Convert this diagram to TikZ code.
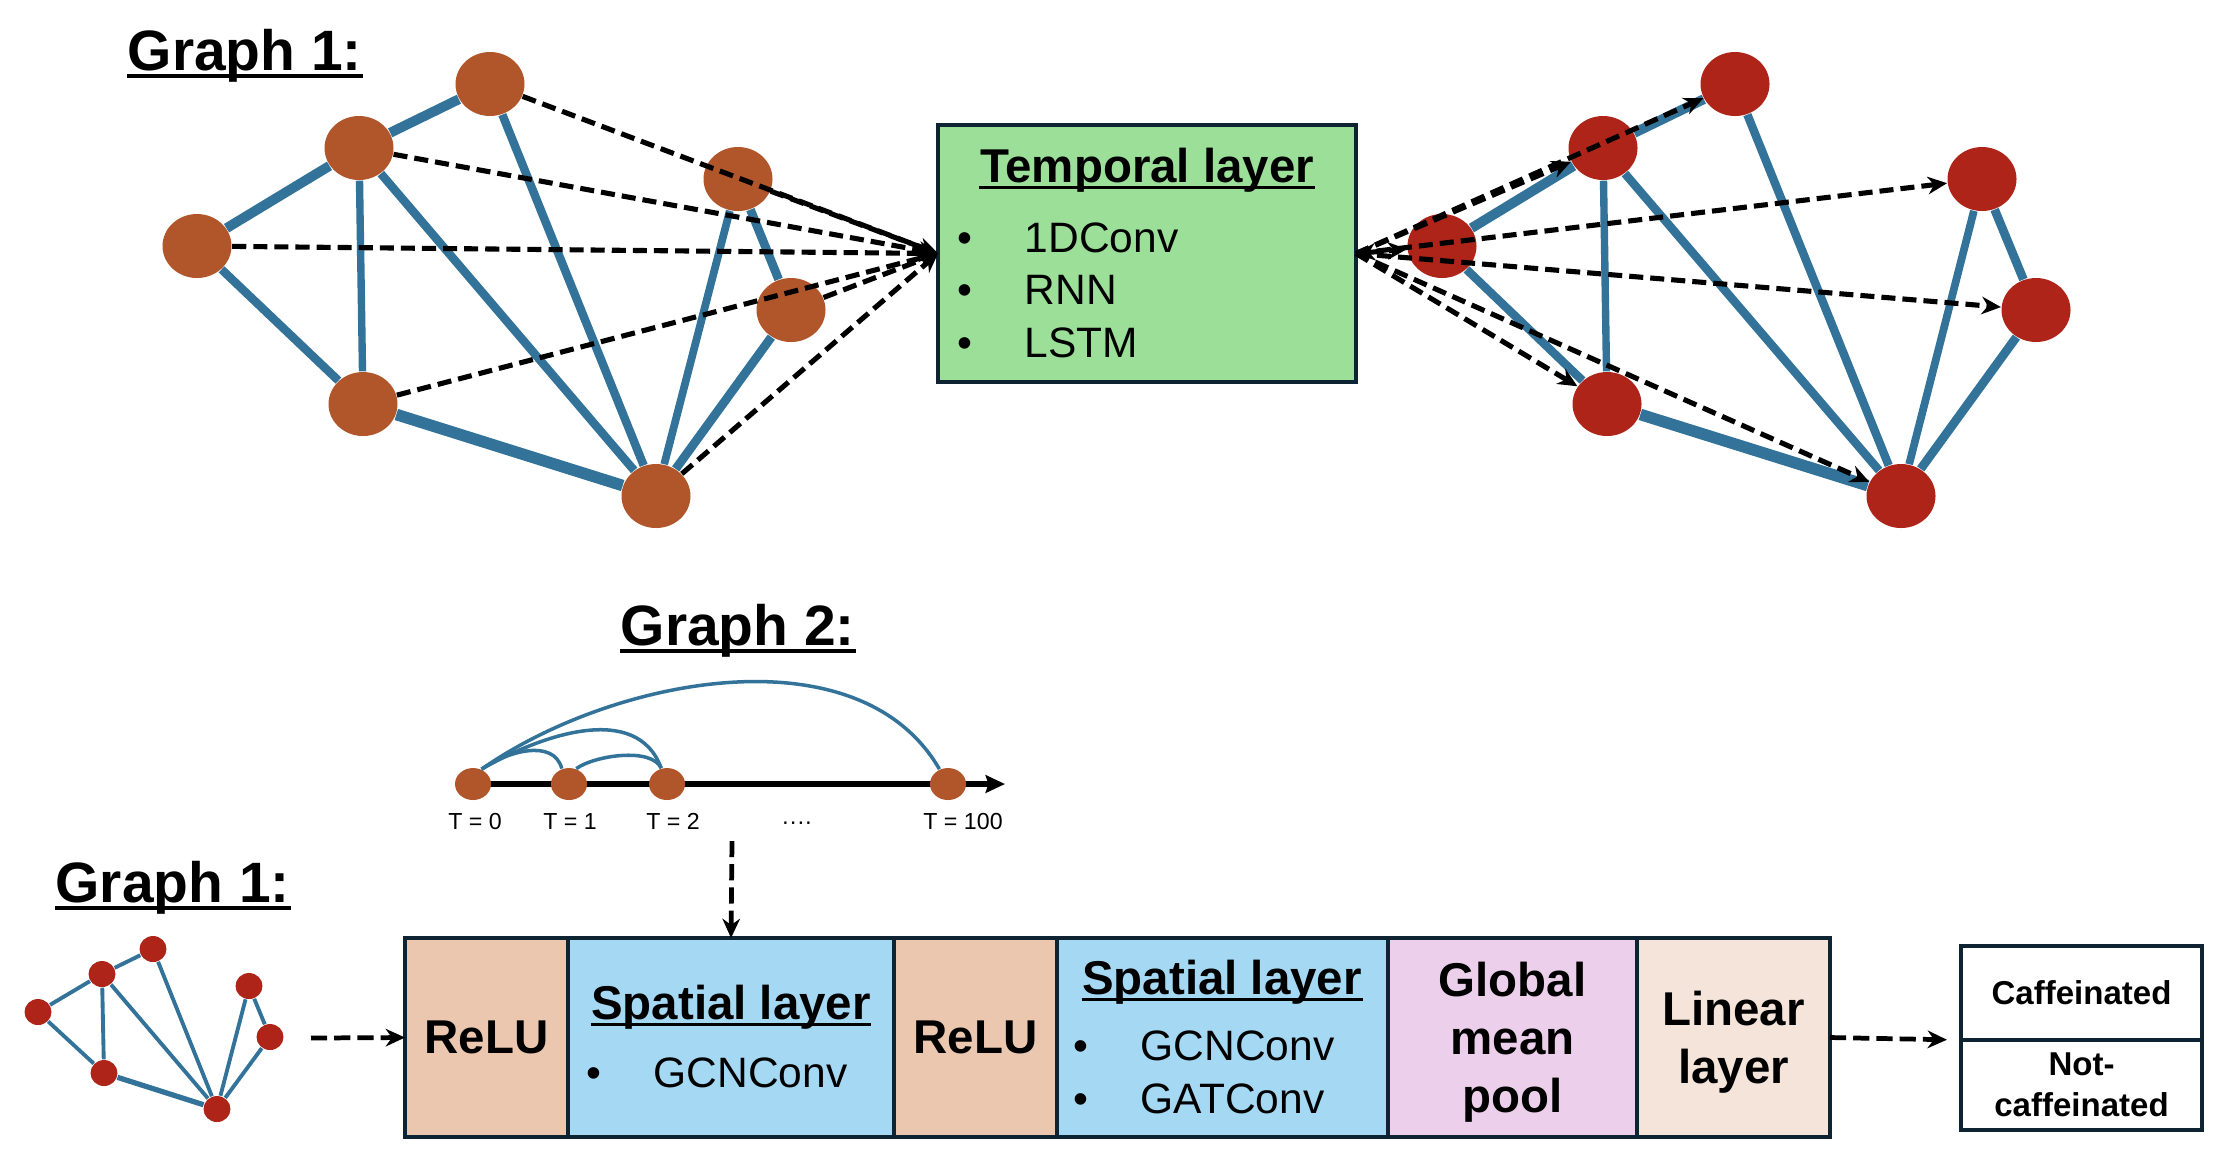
\documentclass[tikz,border=0pt]{standalone}
\usepackage{fontspec}
\setmainfont{Liberation Sans}
\usetikzlibrary{arrows.meta, shapes.geometric}

\definecolor{edgeblue}{HTML}{33739A}
\definecolor{nodeorange}{HTML}{B1562A}
\definecolor{nodered}{HTML}{AE2418}
\definecolor{boxline}{HTML}{0E2433}
\definecolor{tempgreen}{HTML}{9BDF98}
\definecolor{relupeach}{HTML}{EBC7AF}
\definecolor{spatialblue}{HTML}{A5D9F3}
\definecolor{poolpink}{HTML}{ECCFEA}
\definecolor{linearcream}{HTML}{F5E4DA}

\tikzset{
  onode/.style={ellipse, fill=nodeorange, inner sep=0, minimum width=6.9mm, minimum height=6.4mm},
  rnode/.style={onode, fill=nodered},
  link/.style={edgeblue, line width=#1},
  link/.default=2.5pt,
  dasharrow/.style={dash pattern=on 4pt off 2pt, line width=1.45pt, -{Stealth[length=5.5pt,width=5pt]}},
  dasharrowb/.style={dash pattern=on 4.6pt off 2pt, line width=1.35pt, -{Stealth[length=5.5pt,width=5pt]}},
  layerbox/.style={draw=boxline, line width=1.4pt, inner sep=0, outer sep=0, minimum height=19.9mm,
    font=\bfseries\fontsize{13.5}{16.5}\selectfont, align=center},
  heading/.style={font=\bfseries\fontsize{16.2}{19}\selectfont, anchor=base west, inner sep=0},
  boxtitle/.style={font=\bfseries\fontsize{13.5}{16}\selectfont, anchor=base, inner sep=0},
  listitem/.style={font=\fontsize{12.1}{14}\selectfont, anchor=base west, inner sep=0},
  tlabel/.style={font=\fontsize{6.6}{7.5}\selectfont, anchor=base, inner sep=0},
}

\begin{document}
\begin{tikzpicture}[x=0.1mm, y=-0.1mm]
\useasboundingbox (0,0) rectangle (2236,1158);

% Graph 1, top
\node[heading] (g1top) at (127,70) {Graph 1:};

% Nodes of the two graphs round the temporal layer
\node[onode] (a) at (197,246) {};
\node[onode] (b) at (359,148) {};
\node[onode] (c) at (490,84) {};
\node[onode] (d) at (738,179) {};
\node[onode] (e) at (791,310) {};
\node[onode] (f) at (363,404) {};
\node[onode] (g) at (656,496) {};

\node[rnode] (ra) at (1442,246) {};
\node[rnode] (rb) at (1603,148) {};
\node[rnode] (rc) at (1735,84) {};
\node[rnode] (rd) at (1982,179) {};
\node[rnode] (re) at (2036,310) {};
\node[rnode] (rf) at (1607,404) {};
\node[rnode] (rg) at (1901,496) {};

% Edges, same on both sides
\foreach \u/\v/\w in {a/b/2.8pt, b/c/2.8pt, a/f/2.4pt, b/f/2.1pt, b/g/2.4pt, c/g/2.4pt,
                      f/g/3.3pt, d/g/2.2pt, d/e/2.5pt, e/g/2.5pt} {
  \draw[link=\w] (\u) -- (\v);
  \draw[link=\w] (r\u) -- (r\v);
}

% Temporal layer
\node[layerbox, fill=tempgreen, minimum width=41.8mm, minimum height=25.7mm] (temporal) at (1147,253.5) {};
\node[boxtitle] (temptitle) at (1147,182) {Temporal layer};
\node[listitem] (conv) at (957,252) {\makebox[6.7mm][l]{\textbullet}1DConv};
\node[listitem] (rnn) at (957,304) {\makebox[6.7mm][l]{\textbullet}RNN};
\node[listitem] (lstm) at (957,357) {\makebox[6.7mm][l]{\textbullet}LSTM};

% Dashed arrows in and out
\foreach \n in {a,b,c,d,e,f,g}
  \draw[dasharrow] (\n) -- (temporal.west);
\foreach \n in {rb,rc,rd,re,rf,rg}
  \draw[dasharrow] (temporal.east) -- (\n);
\draw[dasharrow, {Stealth[length=5.5pt,width=5pt]}-{Stealth[length=5.5pt,width=5pt]}] (temporal.east) -- (ra);

% Graph 2: time line
\node[heading] (g2) at (620,645) {Graph 2:};
\coordinate (tstart) at (473,784);
\coordinate (tend) at (1005,784);
\draw[line width=1.6pt, -{Stealth[length=5.5pt,width=5pt,inset=0.8pt]}] (tstart) -- (tend);
\node[onode, minimum width=3.6mm, minimum height=3.2mm] (t0) at (473,784) {};
\node[onode, minimum width=3.6mm, minimum height=3.2mm] (t1) at (569,784) {};
\node[onode, minimum width=3.6mm, minimum height=3.2mm] (t2) at (667,784) {};
\node[onode, minimum width=3.6mm, minimum height=3.2mm] (t100) at (948,784) {};
\draw[edgeblue, line width=1pt] (t0.60) to[out=35, in=105] (t1.115);
\draw[edgeblue, line width=1pt] (t1.65) to[out=35, in=115, looseness=0.7] (t2.110);
\draw[edgeblue, line width=1pt] (t0.60) to[out=30, in=110] (t2.110);
\draw[edgeblue, line width=1pt] (t0.60) to[out=35, in=120, looseness=0.9] (t100.120);
\node[tlabel] (l0) at (475,829) {T = 0};
\node[tlabel] (l1) at (570,829) {T = 1};
\node[tlabel] (l2) at (673,829) {T = 2};
\node[tlabel] (ldots) at (797,829) {····};
\node[tlabel] (l100) at (963,829) {T = 100};

% Graph 1, small copy
\node[heading] (g1bot) at (55,902) {Graph 1:};
\node[rnode, minimum width=2.7mm, minimum height=2.6mm] (sa) at (38,1012) {};
\node[rnode, minimum width=2.7mm, minimum height=2.6mm] (sb) at (102,974) {};
\node[rnode, minimum width=2.7mm, minimum height=2.6mm] (sc) at (153,949) {};
\node[rnode, minimum width=2.7mm, minimum height=2.6mm] (sd) at (249,986) {};
\node[rnode, minimum width=2.7mm, minimum height=2.6mm] (se) at (270,1037) {};
\node[rnode, minimum width=2.7mm, minimum height=2.6mm] (sf) at (104,1073) {};
\node[rnode, minimum width=2.7mm, minimum height=2.6mm] (sg) at (217,1109) {};
\foreach \u/\v/\w in {a/b/1.1pt, b/c/1.1pt, a/f/1.1pt, b/f/1.1pt, b/g/1.1pt, c/g/1.1pt,
                      f/g/1.5pt, d/g/1.1pt, d/e/1.1pt, e/g/1.1pt}
  \draw[link=\w] (s\u) -- (s\v);

% Model: layers in a row
\node[layerbox, fill=relupeach, minimum width=16.3mm] (relu1) at (486.5,1037.5) {ReLU};
\node[layerbox, fill=spatialblue, minimum width=32.6mm] (sp1) at (731,1037.5) {};
\node[layerbox, fill=relupeach, minimum width=16.3mm] (relu2) at (975.5,1037.5) {ReLU};
\node[layerbox, fill=spatialblue, minimum width=33.1mm] (sp2) at (1222.5,1037.5) {};
\node[layerbox, fill=poolpink, minimum width=24.9mm, text height=45.5pt] (pool) at (1512.5,1037.5) {Global\\mean\\pool};
\node[layerbox, fill=linearcream, minimum width=19.3mm, text height=29pt] (linear) at (1733.5,1037.5) {Linear\\layer};

\node[boxtitle] (sp1title) at (731,1019) {Spatial layer};
\node[listitem] (sp1gcn) at (586,1087) {\makebox[6.7mm][l]{\textbullet}GCNConv};
\node[boxtitle] (sp2title) at (1222,994) {Spatial layer};
\node[listitem] (sp2gcn) at (1073,1060) {\makebox[6.7mm][l]{\textbullet}GCNConv};
\node[listitem] (sp2gat) at (1073,1113) {\makebox[6.7mm][l]{\textbullet}GATConv};

% Output classes
\node[layerbox, fill=white, minimum width=24.1mm, minimum height=9.4mm,
  font=\bfseries\fontsize{9.4}{11.7}\selectfont] (caf) at (2081.5,993) {Caffeinated};
\node[layerbox, fill=white, minimum width=24.1mm, minimum height=9mm,
  font=\bfseries\fontsize{9.4}{11.7}\selectfont] (notcaf) at (2081.5,1085) {Not-\\caffeinated};

% Underlined titles
\foreach \t in {g1top, g2, g1bot}
  \draw[line width=1.2pt] ([yshift=-1.6pt]\t.base west) -- ([yshift=-1.6pt]\t.base east);
\foreach \t in {temptitle, sp1title, sp2title}
  \draw[line width=1pt] ([yshift=-1.5pt]\t.base west) -- ([yshift=-1.5pt]\t.base east);

% Dashed arrows, bottom row
\coordinate (g2out) at (732,841);
\coordinate (sgout) at (311,1038);
\draw[dasharrowb] (g2out) -- (sp1.north);
\draw[dasharrowb] (sgout) -- (relu1.west);
\draw[dasharrowb, shorten >=4pt] (linear.east) -- (caf.south west);

\end{tikzpicture}
\end{document}
